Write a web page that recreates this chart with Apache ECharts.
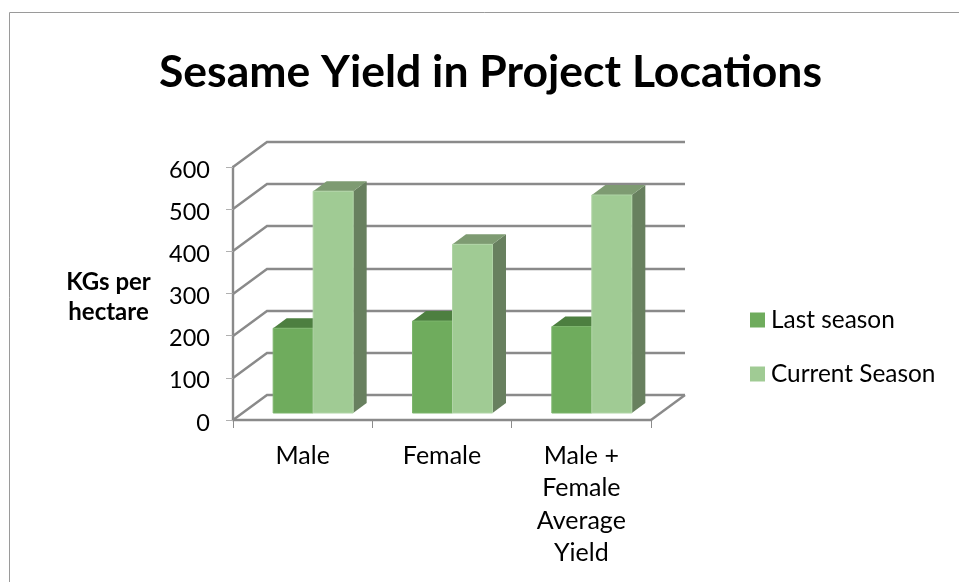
<!DOCTYPE html>
<html><head><meta charset="utf-8">
<style>html,body{margin:0;padding:0;background:#fff;overflow:hidden}#c{width:959px;height:582px}</style>
<script src="https://cdn.jsdelivr.net/npm/echarts@6/dist/echarts.min.js"></script>
</head><body><div id="c"></div>
<script>
const categories = ['Male', 'Female', 'Male +\nFemale\nAverage\nYield'];
const lastSeason = [201, 218, 205];
const currentSeason = [526, 400, 517];
const yTicks = [0, 100, 200, 300, 400, 500, 600];
const seriesNames = ['Last season', 'Current Season'];
const titleText = 'Sesame Yield in Project Locations';
const yAxisTitle = 'KGs per\nhectare';

const FONT = 'Lato';
const WALL = '#8a8a8a';
const wallDX = 34, wallDY = -25;
const barW = 40, barDX = 13.5, barDY = -10, barOffX = 10.5, barOffY = -7;

function wallItem(params, api) {
  const cs = params.coordSys;
  const p = api.coord([0, api.value(0)]);
  const x0 = cs.x, y0 = Math.round(p[1]), x1 = x0 + wallDX, y1 = y0 + wallDY, x2 = cs.x + cs.width + wallDX;
  const style = { stroke: WALL, lineWidth: 2.4, fill: 'none' };
  const children = [{ type: 'polyline', shape: { points: [[x0, y0], [x1, y1], [x2, y1]] }, style }];
  if (api.value(0) === 0) {
    children.push({ type: 'line', shape: { x1: x2, y1: y1, x2: x2 - wallDX, y2: y0 }, style });
  }
  return { type: 'group', children };
}

function barItem(slot, front, top, side, edge) {
  return function (params, api) {
    const c = api.coord([api.value(0), api.value(1)]);
    const b = api.coord([api.value(0), 0]);
    const xl = c[0] + barOffX + (slot === 0 ? -barW : 0);
    const xr = xl + barW;
    const yt = c[1] + barOffY;
    const yb = b[1] + barOffY;
    return { type: 'group', children: [
      { type: 'polygon', shape: { points: [[xr, yt], [xr + barDX, yt + barDY], [xr + barDX, yb + barDY], [xr, yb]] }, style: { fill: side } },
      { type: 'polygon', shape: { points: [[xl, yt], [xl + barDX, yt + barDY], [xr + barDX, yt + barDY], [xr, yt]] }, style: { fill: top } },
      { type: 'rect', shape: { x: xl, y: yt, width: barW, height: yb - yt }, style: { fill: front, stroke: edge, lineWidth: 1 } }
    ] };
  };
}

const chart = echarts.init(document.getElementById('c'), null, { renderer: 'canvas' });
chart.setOption({
  animation: false,
  backgroundColor: '#fff',
  title: {
    text: titleText, left: 490.5, top: 50, padding: 0, textAlign: 'center',
    textStyle: { fontFamily: FONT, fontWeight: 'bold', fontSize: 44.5, color: '#000' }
  },
  graphic: [
    { type: 'polyline', silent: true, shape: { points: [[9.5, 600], [9.5, 12.5], [970, 12.5]] }, style: { stroke: '#9a9a9a', lineWidth: 1, fill: 'none' } },
    { type: 'text', silent: true, x: 108.5, y: 297, style: { text: yAxisTitle, fontFamily: FONT, fontWeight: 'bold', fontSize: 24, lineHeight: 30, fill: '#000', align: 'center', verticalAlign: 'middle' } }
  ],
  legend: {
    data: seriesNames, orient: 'vertical', left: 750, top: 308, padding: 0,
    itemWidth: 15, itemHeight: 15, itemGap: 30, icon: 'rect',
    textStyle: { fontFamily: FONT, fontSize: 24.4, color: '#000', padding: [3, 0, 0, 1] }
  },
  grid: { left: 233, top: 167, width: 418, height: 253, containLabel: false },
  xAxis: {
    type: 'category', data: categories,
    axisLine: { lineStyle: { color: WALL, width: 2.4 } },
    axisTick: { show: true, length: 8, lineStyle: { color: '#8c8c8c', width: 1 } },
    axisLabel: { fontFamily: FONT, fontSize: 25, color: '#000', lineHeight: 32.2, margin: 20, interval: 0 }
  },
  yAxis: {
    type: 'value', min: 0, max: 600, interval: 100,
    splitLine: { show: false },
    axisLine: { show: true, lineStyle: { color: WALL, width: 2.4 } },
    axisTick: { show: true, length: 7, lineStyle: { color: '#b0b0b0', width: 1 } },
    axisLabel: { fontFamily: FONT, fontSize: 23.5, color: '#000', margin: 23, verticalAlign: 'top', lineHeight: 6 }
  },
  series: [
    { type: 'custom', coordinateSystem: 'cartesian2d', clip: false, silent: true, z: 1,
      data: yTicks.map(v => [v]), encode: { y: 0 }, renderItem: wallItem },
    { type: 'custom', name: seriesNames[0], coordinateSystem: 'cartesian2d', clip: false, z: 2,
      itemStyle: { color: '#6FAC5D' },
      data: lastSeason.map((v, i) => [i, v]), encode: { x: 0, y: 1 },
      renderItem: barItem(0, '#6FAC5D', '#4D7F40', '#56803F', '#7DB56D') },
    { type: 'custom', name: seriesNames[1], coordinateSystem: 'cartesian2d', clip: false, z: 3,
      itemStyle: { color: '#A0CB94' },
      data: currentSeason.map((v, i) => [i, v]), encode: { x: 0, y: 1 },
      renderItem: barItem(1, '#A0CB94', '#7E9B72', '#68805F', '#B0D4A6') }
  ]
});
</script></body></html>
